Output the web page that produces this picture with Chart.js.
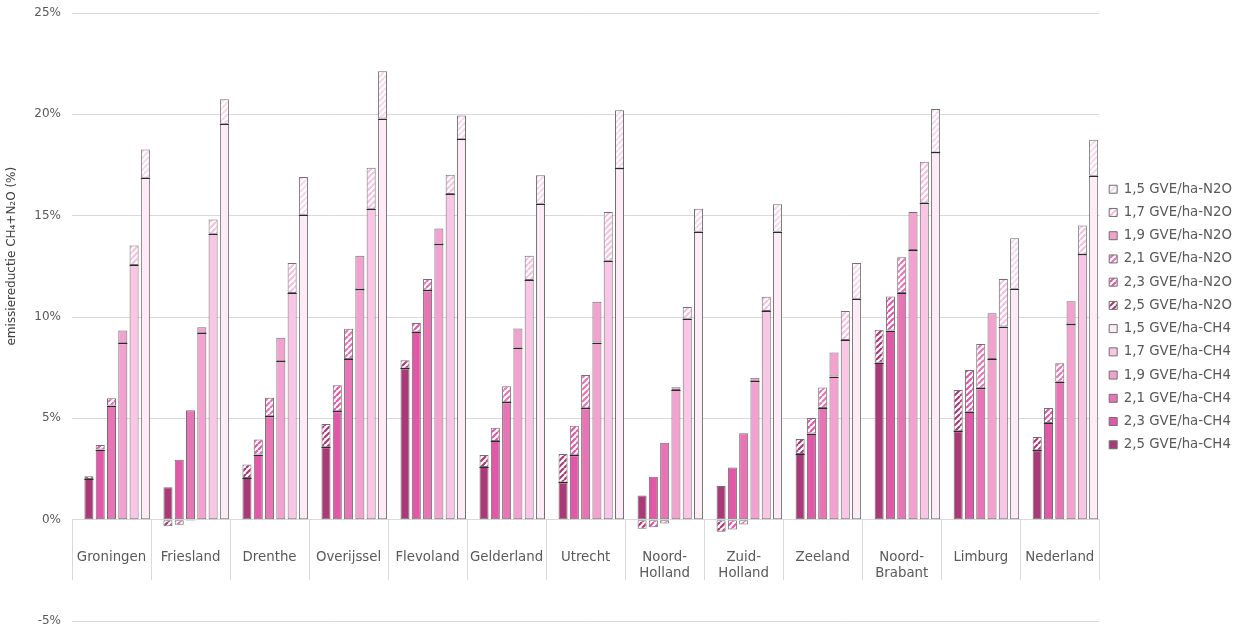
<!DOCTYPE html>
<html>
<head>
<meta charset="utf-8">
<title>Emissiereductie CH4 + N2O per provincie</title>
<script src="https://cdn.jsdelivr.net/npm/chart.js@4.4.1/dist/chart.umd.min.js"></script>
<style>
  html, body { margin: 0; padding: 0; background: #ffffff; }
  #wrap { width: 1246px; height: 629px; position: relative; }
</style>
</head>
<body>
<div id="wrap"><canvas id="chart"></canvas></div>
<script>
// Provinces (plus the national total) along the horizontal axis
const regions = ['Groningen', 'Friesland', 'Drenthe', 'Overijssel', 'Flevoland', 'Gelderland',
  'Utrecht', ['Noord-', 'Holland'], ['Zuid-', 'Holland'], 'Zeeland', ['Noord-', 'Brabant'],
  'Limburg', 'Nederland'];

// Stocking densities (GVE/ha), drawn left to right within each province
const densities = ['2,5', '2,3', '2,1', '1,9', '1,7', '1,5'];

// CH4 share of the emission reduction (%)
const ch4_25 = [2.01, 1.60, 2.06, 3.57, 7.46, 2.60, 1.84, 1.19, 1.66, 3.24, 7.74, 4.36, 3.42];
const ch4_23 = [3.46, 2.96, 3.21, 5.35, 9.27, 3.88, 3.18, 2.12, 2.57, 4.25, 9.33, 5.33, 4.77];
const ch4_21 = [5.63, 5.40, 5.10, 7.93, 11.31, 5.79, 5.50, 3.79, 4.26, 5.51, 11.19, 6.49, 6.80];
const ch4_19 = [8.71, 9.20, 7.82, 11.36, 13.58, 8.48, 8.74, 6.40, 6.83, 7.06, 13.30, 7.93, 9.63];
const ch4_17 = [12.56, 14.11, 11.19, 15.34, 16.07, 11.82, 12.77, 9.91, 10.29, 8.87, 15.64, 9.53, 13.09];
const ch4_15 = [16.87, 19.54, 15.04, 19.79, 18.77, 15.59, 17.33, 14.21, 14.21, 10.90, 18.12, 11.39, 16.97];

// N2O share of the emission reduction (%)
const n2o_25 = [0.13, -0.33, 0.66, 1.15, 0.41, 0.59, 1.40, -0.45, -0.60, 0.74, 1.63, 2.04, 0.66];
const n2o_23 = [0.23, -0.25, 0.74, 1.28, 0.44, 0.66, 1.46, -0.38, -0.48, 0.77, 1.68, 2.06, 0.74];
const n2o_21 = [0.36, -0.05, 0.92, 1.49, 0.56, 0.79, 1.64, -0.19, -0.24, 1.01, 1.76, 2.18, 0.92];
const n2o_19 = [0.62, 0.30, 1.15, 1.66, 0.79, 0.95, 2.01, 0.13, 0.17, 1.19, 1.88, 2.26, 1.15];
const n2o_17 = [0.97, 0.70, 1.47, 2.03, 0.95, 1.20, 2.41, 0.58, 0.71, 1.42, 2.02, 2.35, 1.43];
const n2o_15 = [1.40, 1.20, 1.87, 2.33, 1.17, 1.41, 2.87, 1.13, 1.35, 1.77, 2.14, 2.49, 1.78];

// Value axis
const yMin = -5;
const yMax = 25;
const yStep = 5;
const axisTitle = 'emissiereductie CH\u2084+N\u2082O (%)';

const ch4Series = [ch4_25, ch4_23, ch4_21, ch4_19, ch4_17, ch4_15];
const n2oSeries = [n2o_25, n2o_23, n2o_21, n2o_19, n2o_17, n2o_15];

// Fill colours per density: solid for CH4, stripe colour for N2O (null = solid)
const ch4Colors = ['#a93a77', '#e158a8', '#e774b4', '#f3a2cf', '#fac6e6', '#fdebf5'];
const n2oStripes = ['#a93a77', '#e158a8', '#e774b4', null, '#f7bfdf', '#f8d8ea'];
const outline = '#707070';
const divider = '#2a2a2a';

const FONT = '"DejaVu Sans", Verdana, sans-serif';
const TEXT = '#595959';

// Diagonal "/" hatching on white
function hatch(color) {
  const s = 6;
  const c = document.createElement('canvas');
  c.width = s; c.height = s;
  const g = c.getContext('2d');
  g.fillStyle = '#ffffff';
  g.fillRect(0, 0, s, s);
  g.strokeStyle = color;
  g.lineWidth = 2.2;
  g.beginPath();
  for (const k of [-s, 0, s]) {
    g.moveTo(k, s);
    g.lineTo(k + s, 0);
  }
  g.stroke();
  return g.createPattern(c, 'repeat');
}

const datasets = [];
// empty leading slot in every province group
datasets.push({
  label: '',
  data: regions.map(() => 0),
  stack: 'gap',
  backgroundColor: 'rgba(0,0,0,0)',
  borderWidth: 0
});
densities.forEach((d, i) => {
  datasets.push({
    label: d + ' GVE/ha-CH4',
    data: ch4Series[i],
    stack: 'g' + d,
    gas: 'CH4',
    backgroundColor: ch4Colors[i],
    borderColor: outline,
    borderWidth: 1,
    borderSkipped: false
  });
  datasets.push({
    label: d + ' GVE/ha-N2O',
    data: n2oSeries[i],
    stack: 'g' + d,
    gas: 'N2O',
    backgroundColor: n2oStripes[i] ? hatch(n2oStripes[i]) : ch4Colors[i],
    borderColor: outline,
    borderWidth: 1,
    borderSkipped: false
  });
});

// Legend: N2O series first, then CH4, each from 1,5 up to 2,5
const legendOrder = [];
['N2O', 'CH4'].forEach(gas => {
  densities.slice().reverse().forEach(d => legendOrder.push(d + ' GVE/ha-' + gas));
});

// Rotated value-axis title
const yTitlePlugin = {
  id: 'yTitle',
  afterDraw(chart) {
    const { ctx } = chart;
    const y = chart.scales.y.getPixelForValue(13);
    ctx.save();
    ctx.translate(12, y);
    ctx.rotate(-Math.PI / 2);
    ctx.font = '12px ' + FONT;
    ctx.fillStyle = '#404040';
    ctx.textAlign = 'center';
    ctx.textBaseline = 'middle';
    ctx.fillText(axisTitle, 0, 0);
    ctx.restore();
  }
};

// Dark seam where an N2O segment sits on top of its CH4 segment
const seamPlugin = {
  id: 'seam',
  afterDatasetsDraw(chart) {
    const { ctx } = chart;
    ctx.save();
    ctx.strokeStyle = divider;
    ctx.lineWidth = 1;
    chart.data.datasets.forEach((ds, di) => {
      if (ds.gas !== 'CH4') return;
      const n2o = chart.data.datasets[di + 1].data;
      chart.getDatasetMeta(di).data.forEach((el, i) => {
        if (!(n2o[i] > 0)) return;
        const y = Math.round(el.y) + 0.5;
        ctx.beginPath();
        ctx.moveTo(el.x - el.width / 2, y);
        ctx.lineTo(el.x + el.width / 2, y);
        ctx.stroke();
      });
    });
    ctx.restore();
  }
};

new Chart(document.getElementById('chart'), {
  type: 'bar',
  data: { labels: regions, datasets },
  plugins: [yTitlePlugin, seamPlugin],
  options: {
    responsive: true,
    maintainAspectRatio: false,
    animation: false,
    events: [],
    categoryPercentage: 1.0,
    barPercentage: 0.8,
    layout: { padding: { top: 13, bottom: 8, left: 0, right: 4 } },
    plugins: {
      tooltip: { enabled: false },
      title: { display: false },
      legend: {
        position: 'right',
        align: 'center',
        labels: {
          boxWidth: 8,
          boxHeight: 8,
          padding: 9.9,
          color: TEXT,
          font: { family: FONT, size: 13.33 },
          filter: item => item.text !== '',
          sort: (a, b) => legendOrder.indexOf(a.text) - legendOrder.indexOf(b.text)
        }
      }
    },
    scales: {
      x: {
        type: 'category',
        stacked: true,
        offset: true,
        position: { y: 0 },
        grid: {
          offset: true,
          drawOnChartArea: false,
          drawTicks: true,
          tickLength: 60,
          color: '#d9d9d9'
        },
        border: { display: true, color: '#d9d9d9' },
        ticks: {
          autoSkip: false,
          maxRotation: 0,
          minRotation: 0,
          padding: -30,
          color: TEXT,
          font: { family: FONT, size: 13.33, lineHeight: 1.2 }
        }
      },
      y: {
        stacked: true,
        min: yMin,
        max: yMax,
        afterFit(scale) {
          scale.width = 72;
          scale.paddingTop = 0;
          scale.paddingBottom = 0;
        },
        grid: { color: '#d9d9d9', drawTicks: false },
        border: { display: false },
        ticks: {
          stepSize: yStep,
          padding: 11,
          color: TEXT,
          font: { family: FONT, size: 12 },
          callback: v => v + '%'
        }
      }
    }
  }
});
</script>
</body>
</html>
